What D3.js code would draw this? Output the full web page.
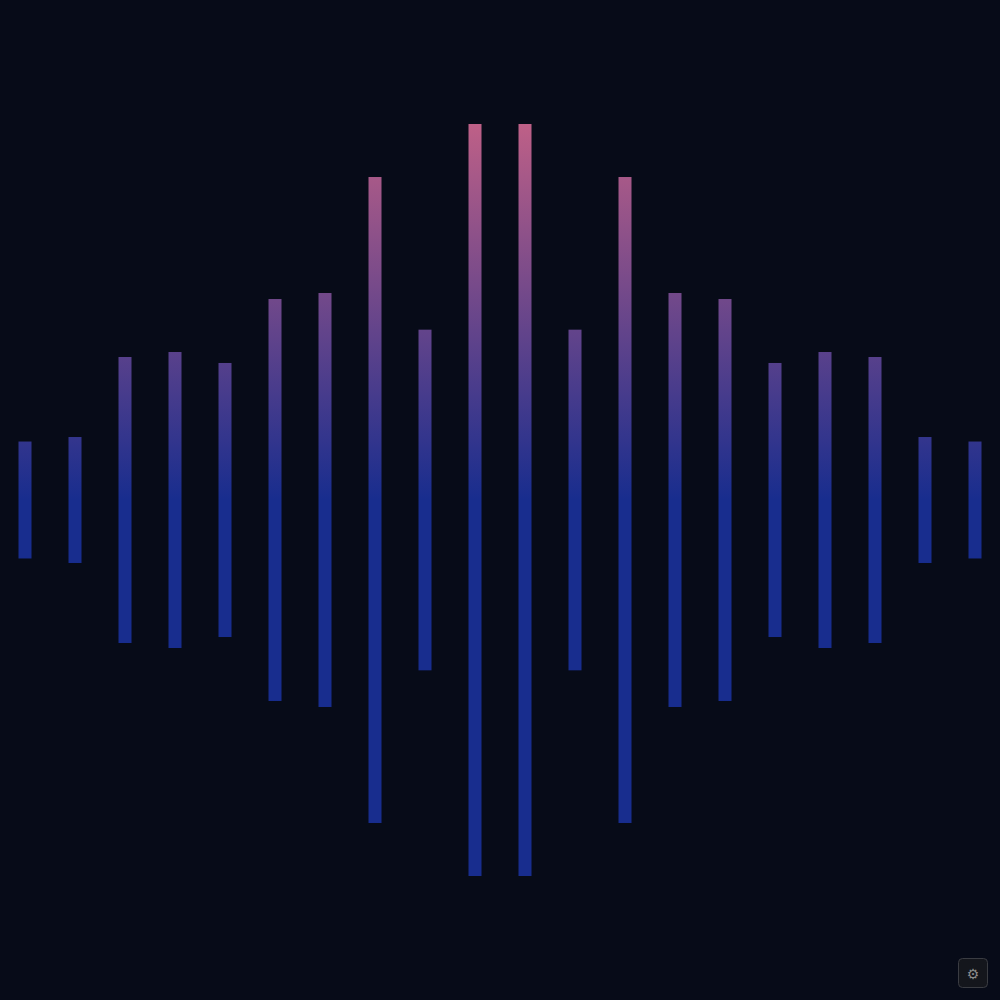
<!DOCTYPE html>
<html>
<head>
<meta charset="utf-8">
<script src="https://cdn.jsdelivr.net/npm/d3@7"></script>
<style>
html, body { margin: 0; padding: 0; background: #070b18; overflow: hidden; }
svg { display: block; }
</style>
</head>
<body>
<script>
const width = 1000;
const height = 1000;

// amplitude of each bar, mirrored around the middle of the row
const leftAmps = [15.55, 16.75, 38.03, 39.36, 36.44, 53.45, 55.05, 85.9, 45.3, 100];
const amps = leftAmps.concat(leftAmps.slice().reverse());
const bins = amps.map((d, i) => i);
const gearLabel = "⚙";

const svg = d3.select("body").append("svg")
    .attr("width", width)
    .attr("height", height);

const x = d3.scaleBand()
    .domain(bins)
    .range([0, width])
    .paddingInner(0.74)
    .paddingOuter(0.37);

const y = d3.scaleLinear()
    .domain([-100, 100])
    .range([876, 124]);

const grad = svg.append("defs").append("linearGradient")
    .attr("id", "barFill")
    .attr("gradientUnits", "userSpaceOnUse")
    .attr("x1", 0).attr("x2", 0)
    .attr("y1", y(100)).attr("y2", y(-100));
grad.append("stop").attr("offset", "0%").attr("stop-color", "#be6087");
grad.append("stop").attr("offset", "50%").attr("stop-color", "#182d8e");
grad.append("stop").attr("offset", "100%").attr("stop-color", "#182d8e");

svg.append("g")
    .selectAll("rect")
    .data(amps)
    .join("rect")
    .attr("x", (d, i) => x(i))
    .attr("width", x.bandwidth())
    .attr("y", d => y(d))
    .attr("height", d => y(-d) - y(d))
    .attr("fill", "url(#barFill)");

// settings button in the corner
const btn = svg.append("g").attr("transform", "translate(958,958)");
btn.append("rect")
    .attr("x", 0.5).attr("y", 0.5)
    .attr("width", 29).attr("height", 29)
    .attr("rx", 4)
    .attr("fill", "#14161c")
    .attr("stroke", "#3a3c42");
btn.append("text")
    .attr("x", 15).attr("y", 20.5)
    .attr("text-anchor", "middle")
    .attr("font-family", "DejaVu Sans, sans-serif")
    .attr("font-size", 14)
    .attr("fill", "#8a8a8a")
    .text(gearLabel);
</script>
</body>
</html>
